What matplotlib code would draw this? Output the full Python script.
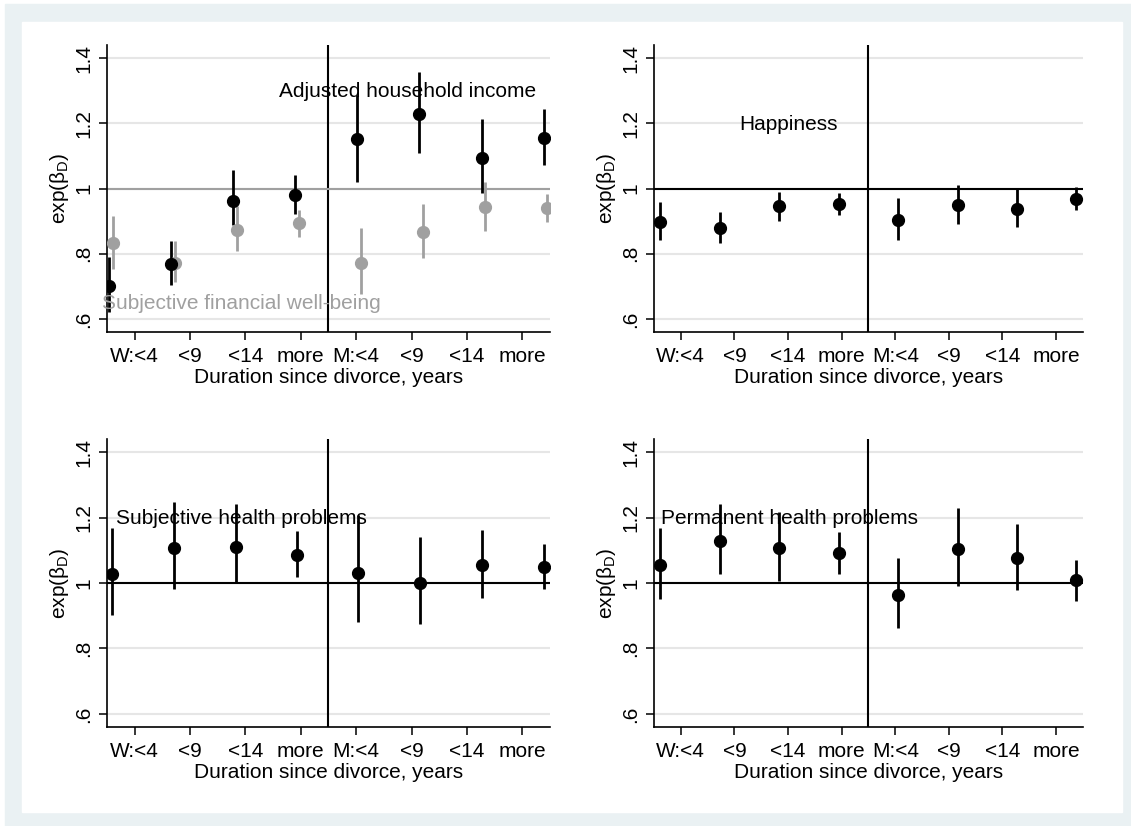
import matplotlib
matplotlib.use("Agg")
import matplotlib.pyplot as plt
from matplotlib.patches import Rectangle

plt.rcParams["font.family"] = ["Liberation Sans", "DejaVu Sans"]
plt.rcParams["mathtext.fontset"] = "custom"
plt.rcParams["mathtext.rm"] = "Liberation Sans"
plt.rcParams["mathtext.it"] = "Liberation Sans:italic"

tick_pos = [1, 2, 3, 4, 5, 6, 7, 8]
tick_labels = ["W:<4", "<9", "<14", "more", "M:<4", "<9", "<14", "more"]
ylabel = r"exp($\mathrm{\beta_D}$)"
xlabel = "Duration since divorce, years"

# panel 1: adjusted household income (black) and subjective financial well-being (gray)
inc_x = [0.536, 1.66, 2.78, 3.90, 5.02, 6.14, 7.27, 8.39]
inc_est = [0.702, 0.769, 0.962, 0.980, 1.153, 1.228, 1.094, 1.155]
inc_lo = [0.620, 0.705, 0.889, 0.921, 1.021, 1.110, 0.986, 1.073]
inc_hi = [0.789, 0.838, 1.056, 1.042, 1.287, 1.356, 1.212, 1.244]

fin_x = [0.60, 1.72, 2.84, 3.96, 5.08, 6.20, 7.33, 8.45]
fin_est = [0.832, 0.773, 0.874, 0.893, 0.771, 0.867, 0.942, 0.939]
fin_lo = [0.753, 0.713, 0.807, 0.851, 0.678, 0.786, 0.869, 0.898]
fin_hi = [0.916, 0.838, 0.947, 0.935, 0.879, 0.954, 1.019, 0.982]

# panel 2: happiness
hap_x = [0.615, 1.733, 2.839, 3.944, 5.056, 6.161, 7.273, 8.379]
hap_est = [0.898, 0.879, 0.945, 0.953, 0.904, 0.949, 0.938, 0.968]
hap_lo = [0.841, 0.832, 0.899, 0.918, 0.841, 0.891, 0.883, 0.933]
hap_hi = [0.959, 0.929, 0.990, 0.987, 0.971, 1.010, 1.000, 1.006]

# panel 3: subjective health problems
sub_x = [0.59, 1.71, 2.825, 3.94, 5.04, 6.155, 7.27, 8.39]
sub_est = [1.027, 1.107, 1.111, 1.086, 1.032, 1.000, 1.054, 1.050]
sub_lo = [0.902, 0.982, 0.999, 1.017, 0.882, 0.875, 0.954, 0.983]
sub_hi = [1.167, 1.249, 1.241, 1.159, 1.208, 1.142, 1.162, 1.120]

# panel 4: permanent health problems
perm_x = [0.615, 1.733, 2.839, 3.944, 5.056, 6.161, 7.273, 8.379]
perm_est = [1.054, 1.129, 1.107, 1.091, 0.962, 1.103, 1.075, 1.008]
perm_lo = [0.951, 1.028, 1.007, 1.027, 0.861, 0.992, 0.979, 0.945]
perm_hi = [1.167, 1.240, 1.218, 1.157, 1.075, 1.229, 1.180, 1.070]

GRAY = "#a0a0a0"
BG = "#eaf1f3"

fig = plt.figure(figsize=(11.31, 8.26), dpi=100)
fig.patch.set_facecolor("white")
fig.patches.append(Rectangle((5 / 1131, 0), 1 - 5 / 1131, 1 - 4 / 826,
                             transform=fig.transFigure, color=BG, zorder=-2))
fig.patches.append(Rectangle((22 / 1131, 14 / 826), 1100 / 1131, 790 / 826,
                             transform=fig.transFigure, color="white", zorder=-1))


def make_axes(rect):
    ax = fig.add_axes(rect)
    ax.set_xlim(0.5, 8.5)
    ax.set_ylim(0.56, 1.44)
    for s in ("top", "right"):
        ax.spines[s].set_visible(False)
    for s in ("left", "bottom"):
        ax.spines[s].set_linewidth(1.2)
    ax.set_xticks(tick_pos)
    ax.set_xticklabels(tick_labels, fontsize=15)
    ax.set_yticks([0.6, 0.8, 1.0, 1.2, 1.4])
    ax.set_yticklabels([".6", ".8", "1", "1.2", "1.4"], fontsize=15,
                       rotation=90, va="center")
    ax.tick_params(axis="both", length=6, width=1.1, pad=4)
    ax.tick_params(axis="x", pad=5)
    ax.grid(axis="y", color="#e6e6e6", lw=1.5, zorder=0)
    ax.set_axisbelow(True)
    ax.set_xlabel(xlabel, fontsize=15, labelpad=1)
    ax.set_ylabel(ylabel, fontsize=15, labelpad=2)
    ax.axvline(4.5, color="black", lw=1.5, zorder=1)
    return ax


def draw_ci(ax, x, est, lo, hi, color):
    ax.vlines(x, lo, hi, color=color, lw=2, zorder=3)
    ax.plot(x, est, "o", color=color, ms=8.5, zorder=4)


ax1 = make_axes([0.0946, 0.598, 0.3917, 0.3475])
ax1.axhline(1.0, color=GRAY, lw=1.5, zorder=1)
draw_ci(ax1, fin_x, fin_est, fin_lo, fin_hi, GRAY)
draw_ci(ax1, inc_x, inc_est, inc_lo, inc_hi, "black")
ax1.text(3.61, 1.299, "Adjusted household income", fontsize=15, va="center")
ax1.text(0.41, 0.647, "Subjective financial well-being", fontsize=15,
         va="center", color=GRAY, zorder=5)

ax2 = make_axes([0.5782, 0.598, 0.3793, 0.3475])
ax2.axhline(1.0, color="black", lw=1.5, zorder=1)
draw_ci(ax2, hap_x, hap_est, hap_lo, hap_hi, "black")
ax2.text(2.09, 1.197, "Happiness", fontsize=15, va="center")

ax3 = make_axes([0.0946, 0.1199, 0.3917, 0.3486])
ax3.axhline(1.0, color="black", lw=1.5, zorder=1)
draw_ci(ax3, sub_x, sub_est, sub_lo, sub_hi, "black")
ax3.text(0.66, 1.197, "Subjective health problems", fontsize=15, va="center")

ax4 = make_axes([0.5782, 0.1199, 0.3793, 0.3486])
ax4.axhline(1.0, color="black", lw=1.5, zorder=1)
draw_ci(ax4, perm_x, perm_est, perm_lo, perm_hi, "black")
ax4.text(0.63, 1.197, "Permanent health problems", fontsize=15, va="center")

fig.savefig("out.png", dpi=100)
